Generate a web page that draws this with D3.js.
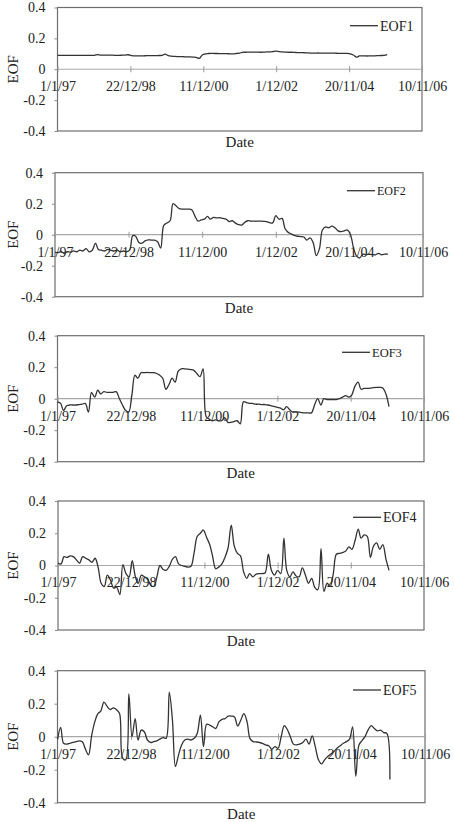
<!DOCTYPE html>
<html><head><meta charset="utf-8">
<script src="https://cdn.jsdelivr.net/npm/d3@7"></script>
<style>html,body{margin:0;padding:0;background:#fff;}svg{display:block;}</style>
</head><body>
<svg id="chart" width="454" height="822"></svg>
<script>
// ---------- data ----------
const tickLabels = ["1/1/97","22/12/98","11/12/00","1/12/02","20/11/04","10/11/06"];
const yTickValues = [0.4, 0.2, 0, -0.2, -0.4];
const yTickLabels = ["0.4","0.2","0","-0.2","-0.4"];
const seriesNames = ["EOF1","EOF2","EOF3","EOF4","EOF5"];
const firstMonth = "1/1/97";   // monthly values from Jan 1997
const lastMonth  = "1/12/05";  // to Dec 2005

const eof1 = [0.090,0.090,0.090,0.090,0.090,0.090,0.090,0.090,0.090,0.090,0.090,0.090,0.090,
0.095,0.092,0.092,0.091,0.091,0.091,0.090,0.090,0.091,0.092,0.094,
0.088,0.087,0.087,0.087,0.087,0.088,0.088,0.088,0.088,0.089,0.090,0.098,0.088,
0.085,0.083,0.082,0.082,0.081,0.080,0.080,0.079,0.077,0.070,0.092,0.100,
0.102,0.103,0.102,0.102,0.101,0.101,0.101,0.100,0.100,0.102,0.104,0.110,
0.110,0.111,0.111,0.111,0.111,0.110,0.111,0.112,0.113,0.115,0.117,
0.114,0.112,0.111,0.110,0.110,0.109,0.108,0.108,0.107,
0.106,0.105,0.104,0.105,0.105,0.104,0.104,0.104,0.104,0.104,0.103,0.103,0.103,0.103,0.100,
0.092,0.078,0.086,0.087,0.086,0.086,0.087,0.087,0.088,0.089,0.090,0.095];

const eof2 = [-0.114,-0.115,-0.110,-0.120,-0.110,-0.113,-0.105,-0.110,-0.100,-0.105,
-0.090,-0.110,-0.100,-0.054,-0.095,-0.100,-0.105,-0.095,-0.100,-0.105,
-0.100,-0.110,-0.105,-0.110,-0.100,-0.006,-0.010,-0.050,-0.055,-0.040,
-0.033,-0.035,-0.035,-0.045,-0.086,0.060,0.075,0.090,0.200,0.185,
0.168,0.165,0.165,0.165,0.160,0.120,0.088,0.095,0.100,0.118,
0.100,0.112,0.108,0.110,0.105,0.100,0.085,0.090,0.075,0.065,
0.062,0.080,0.090,0.088,0.088,0.087,0.088,0.086,0.085,0.078,
0.076,0.123,0.100,0.105,0.040,0.015,0.005,-0.005,-0.010,-0.012,
-0.015,-0.035,-0.020,-0.050,-0.135,-0.090,0.030,0.050,0.045,0.055,
0.045,0.025,0.020,0.025,0.030,0.000,-0.090,-0.140,-0.150,-0.125,
-0.130,-0.125,-0.128,-0.130,-0.120,-0.130,-0.125,-0.125];

const eof3 = [-0.020,-0.030,-0.075,-0.045,-0.040,-0.040,-0.040,-0.037,-0.035,-0.030,
-0.085,0.040,0.010,0.055,0.030,0.045,0.040,0.040,0.040,0.045,
0.000,-0.040,-0.075,-0.085,0.020,0.150,0.130,0.165,0.165,0.167,
0.165,0.165,0.160,0.150,0.130,0.060,0.090,0.130,0.105,0.175,
0.190,0.190,0.188,0.185,0.180,0.160,0.140,0.190,-0.115,-0.130,
-0.140,-0.135,-0.140,-0.140,-0.120,-0.150,-0.150,-0.145,-0.140,-0.160,
-0.020,-0.025,-0.030,-0.030,-0.035,-0.035,-0.037,-0.037,-0.040,-0.045,
-0.050,-0.055,-0.060,-0.070,-0.050,-0.070,-0.085,-0.085,-0.085,-0.088,
-0.090,-0.090,-0.090,-0.040,0.000,-0.040,0.000,-0.005,-0.005,-0.005,
-0.005,0.000,0.010,0.020,0.010,0.025,0.080,0.105,0.060,0.065,
0.065,0.067,0.070,0.072,0.072,0.068,0.030,-0.050];

const eof4 = [0.015,0.010,0.055,0.050,0.060,0.055,0.035,0.015,0.055,0.045,
0.035,0.020,0.045,-0.015,-0.110,-0.130,-0.060,-0.090,-0.140,-0.135,
-0.180,0.005,-0.050,-0.070,0.030,-0.070,-0.110,-0.060,-0.070,-0.085,
-0.120,-0.130,-0.070,0.000,-0.025,-0.030,-0.005,0.040,0.055,0.010,
0.000,-0.005,-0.010,-0.005,0.080,0.180,0.200,0.220,0.175,0.130,
0.060,-0.020,-0.010,0.010,0.050,0.110,0.250,0.120,0.075,0.060,
-0.040,-0.080,-0.050,-0.070,-0.055,-0.050,-0.050,-0.045,0.070,-0.030,
-0.060,-0.030,-0.050,0.170,-0.030,-0.070,-0.040,-0.065,-0.070,-0.015,
-0.060,-0.110,-0.080,-0.135,-0.150,0.105,-0.160,-0.110,-0.130,-0.050,
0.070,0.075,0.080,0.090,0.115,0.100,0.155,0.225,0.170,0.190,
0.180,0.050,0.120,0.140,0.100,0.130,0.040,-0.030];

const eof5 = [-0.015,0.057,-0.040,-0.045,-0.040,-0.035,-0.030,-0.025,-0.030,-0.075,
-0.110,0.005,0.090,0.140,0.155,0.210,0.185,0.165,0.175,0.165,
0.140,-0.130,-0.140,0.260,0.000,0.110,-0.020,0.040,0.030,-0.020,
-0.035,-0.030,-0.025,-0.015,-0.005,-0.010,0.270,0.100,-0.180,-0.110,
-0.050,-0.020,-0.015,-0.020,-0.010,0.020,0.130,-0.060,0.075,0.070,
0.060,0.050,0.090,0.105,0.110,0.125,0.125,0.120,0.065,0.100,
0.140,0.090,-0.010,-0.030,-0.032,-0.035,-0.040,-0.050,-0.055,-0.075,
-0.060,-0.070,0.000,0.067,0.045,0.000,-0.045,-0.050,-0.045,-0.035,
-0.015,-0.045,0.005,-0.060,-0.140,-0.165,-0.140,-0.120,-0.105,-0.090,
-0.070,-0.055,-0.040,-0.030,-0.015,0.060,-0.240,-0.050,-0.025,0.000,
0.040,0.067,0.050,0.035,0.040,0.025,0.020,-0.260];

const seriesValues = [eof1, eof2, eof3, eof4, eof5];

// ---------- layout ----------
const panels = [
  {l:57.5, r:422, t:7.5,   b:131,   legX:350, legY:25.7,  legFont:14},
  {l:55,   r:423, t:172.7, b:296.7, legX:347, legY:190.7, legFont:12},
  {l:57.5, r:424, t:335.7, b:461.7, legX:342, legY:352.3, legFont:12.5},
  {l:58,   r:424, t:501,   b:630,   legX:353, legY:517.3, legFont:14},
  {l:57.5, r:425, t:670.7, b:802.7, legX:353, legY:690,   legFont:14}
];

const parse = d3.timeParse("%d/%m/%y");
const tickDates = tickLabels.map(parse);
const months = d3.timeMonth.range(parse(firstMonth), d3.timeMonth.offset(parse(lastMonth), 1));
const FONT = "'Liberation Serif','Times New Roman',Times,serif";
const svg = d3.select("#chart");

panels.forEach((p, i) => {
  const g = svg.append("g");
  const x = d3.scaleTime().domain([tickDates[0], tickDates[tickDates.length-1]]).range([p.l, p.r]);
  const y = d3.scaleLinear().domain([-0.4, 0.4]).range([p.b, p.t]);

  // frame
  g.append("rect").attr("x", p.l).attr("y", p.t).attr("width", p.r - p.l).attr("height", p.b - p.t)
    .attr("fill", "none").attr("stroke", "#6e6e6e").attr("stroke-width", 1.2);

  // y axis (ticks + labels)
  const yAxis = d3.axisLeft(y).tickValues(yTickValues).tickSize(3).tickPadding(9)
    .tickFormat((d, k) => yTickLabels[k]);
  const ya = g.append("g").attr("transform", `translate(${p.l},0)`).call(yAxis);
  ya.select(".domain").remove();
  ya.selectAll("line").attr("stroke", "#888");
  ya.selectAll("text").attr("font-family", FONT).attr("font-size", 14).attr("fill", "#222");

  // zero line with x ticks
  const xAxis = d3.axisBottom(x).tickValues(tickDates).tickSize(3).tickPadding(9)
    .tickFormat((d, k) => tickLabels[k]);
  const xa = g.append("g").attr("transform", `translate(0,${y(0)})`).call(xAxis);
  xa.select(".domain").attr("stroke", "#a8a8a8").attr("stroke-width", 1.2)
    .attr("d", `M${p.l},0H${p.r}`);
  xa.selectAll(".tick line").attr("stroke", "#999").attr("y1", -3);
  xa.selectAll("text").attr("font-family", FONT).attr("font-size", 14).attr("fill", "#222");

  // data line
  const data = months.map((d, k) => ({date: d, v: seriesValues[i][k]}));
  g.append("path").datum(data)
    .attr("fill", "none").attr("stroke", "#333").attr("stroke-width", 1.3)
    .attr("d", d3.line().x(d => x(d.date)).y(d => y(d.v)).curve(d3.curveCatmullRom.alpha(0.5)));

  // legend
  g.append("line").attr("x1", p.legX).attr("x2", p.legX + 28).attr("y1", p.legY).attr("y2", p.legY)
    .attr("stroke", "#333").attr("stroke-width", 1.3);
  g.append("text").attr("x", p.legX + 30).attr("y", p.legY).attr("dy", "0.35em")
    .attr("font-family", FONT).attr("font-size", p.legFont).attr("fill", "#222").text(seriesNames[i]);

  // axis titles
  g.append("text").attr("transform", `translate(13,${(p.t + p.b) / 2}) rotate(-90)`)
    .attr("text-anchor", "middle").attr("dy", "0.35em")
    .attr("font-family", FONT).attr("font-size", 15).attr("fill", "#222").text("EOF");
  g.append("text").attr("x", (p.l + p.r) / 2).attr("y", p.b + 16)
    .attr("text-anchor", "middle")
    .attr("font-family", FONT).attr("font-size", 15).attr("fill", "#222").text("Date");
});
</script>
</body></html>
